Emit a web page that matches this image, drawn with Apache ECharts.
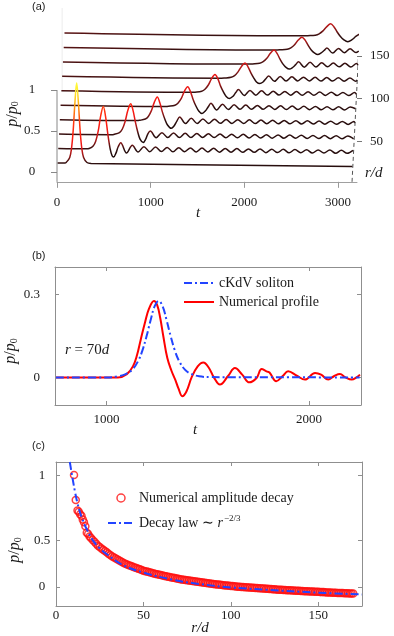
<!DOCTYPE html>
<html><head><meta charset="utf-8">
<script src="https://cdn.jsdelivr.net/npm/echarts@6/dist/echarts.min.js"></script>
<style>html,body{margin:0;padding:0;background:#fff}#c{width:394px;height:636px}</style>
</head><body><div id="c"></div>
<script>
// ================= DATA =================
// (a) waterfall: radial position r/d of each trace
const traceR = [10, 27, 44, 61, 78, 95, 112, 129, 146, 163];
// pulse part of each trace: [t, p/p0]
const traceHead = [
 [[0,0],[80,0],[95,0.01],[131,0.07],[150,0.18],[168,0.40],[187,0.75],[205,0.98],[223,0.75],[242,0.40],[260,0.18],[279,0.07],[315,0.01],[360,0],[3150,0]],
 [[0,0],[300,0],[330,0.005],[373,0.036],[400,0.094],[427,0.22],[454,0.41],[481,0.52],[505,0.40],[530,0.18],[555,0.0],[575,-0.08],[592,-0.095],[615,-0.05],[640,0.03],[667,0.08]],
 [[0,0],[560,0],[585,0.004],[645,0.027],[675,0.068],[705,0.16],[735,0.30],[765,0.38],[790,0.30],[815,0.16],[840,0.04],[865,-0.05],[899,-0.09],[925,-0.05],[950,0.02],[975,0.05]],
 [[0,0],[820,0],[850,0.003],[913,0.02],[945,0.052],[977,0.12],[1009,0.225],[1041,0.29],[1068,0.22],[1095,0.11],[1122,0.02],[1150,-0.05],[1190,-0.09],[1220,-0.06],[1250,0.0],[1280,0.05]],
 [[0,0],[1120,0],[1153,0.003],[1221,0.017],[1255,0.044],[1289,0.10],[1323,0.19],[1357,0.245],[1385,0.19],[1415,0.09],[1445,0.01],[1475,-0.05],[1510,-0.08],[1545,-0.05],[1575,0.0],[1605,0.045]],
 [[0,0],[1400,0],[1427,0.002],[1498,0.015],[1533,0.04],[1569,0.092],[1604,0.17],[1640,0.22],[1670,0.17],[1700,0.08],[1730,0.01],[1760,-0.045],[1795,-0.07],[1830,-0.045],[1860,0.0],[1890,0.04]],
 [[0,0],[1700,0],[1730,0.002],[1804,0.013],[1841,0.034],[1878,0.08],[1915,0.146],[1952,0.19],[1983,0.146],[2015,0.07],[2045,0.01],[2075,-0.04],[2110,-0.06],[2145,-0.04],[2175,0.0],[2205,0.035]],
 [[0,0],[2000,0],[2023,0.002],[2100,0.012],[2138,0.032],[2177,0.073],[2215,0.135],[2254,0.175],[2286,0.135],[2318,0.065],[2350,0.005],[2382,-0.035],[2418,-0.055],[2452,-0.035],[2485,0.0],[2515,0.035]],
 [[0,0],[2280,0],[2307,0.002],[2386,0.011],[2425,0.029],[2465,0.067],[2504,0.124],[2544,0.16],[2577,0.124],[2610,0.06],[2643,0.005],[2676,-0.03],[2712,-0.05],[2748,-0.03],[2780,0.0],[2810,0.03]],
 [[0,0],[2570,0],[2596,0.002],[2678,0.01],[2719,0.027],[2760,0.063],[2801,0.116],[2842,0.15],[2876,0.116],[2910,0.055],[2944,0.0],[2980,-0.04],[3025,-0.065],[3070,-0.04],[3110,0.0],[3150,0.03]]
];
// oscillatory tail after each pulse, sampled every tailStep in t
const tailStep = 62;
const tEnd = 3150;
const traceTail = [
 [],
 [-0.045,0.05,-0.03,0.035,-0.025,0.032,-0.022,0.03,-0.024,0.028,-0.02,0.027,-0.022,0.026,-0.02,0.025,-0.021,0.024,-0.019,0.025,-0.02,0.023,-0.018,0.024,-0.02,0.022,-0.018,0.023,-0.019,0.022,-0.017,0.022,-0.018,0.021,-0.017,0.022,-0.018,0.02,-0.017,0.02],
 [-0.03,0.032,-0.026,0.03,-0.024,0.028,-0.022,0.027,-0.021,0.026,-0.02,0.025,-0.021,0.024,-0.019,0.024,-0.02,0.023,-0.018,0.023,-0.019,0.022,-0.018,0.022,-0.017,0.021,-0.018,0.021,-0.017,0.02,-0.017,0.021,-0.016,0.02,-0.016],
 [-0.03,0.035,-0.026,0.03,-0.024,0.028,-0.022,0.027,-0.021,0.026,-0.02,0.025,-0.02,0.024,-0.019,0.023,-0.019,0.023,-0.018,0.022,-0.018,0.022,-0.017,0.021,-0.017,0.021,-0.016,0.02,-0.016,0.02],
 [-0.035,0.035,-0.028,0.03,-0.024,0.028,-0.022,0.026,-0.021,0.025,-0.02,0.024,-0.02,0.023,-0.019,0.022,-0.018,0.022,-0.018,0.021,-0.017,0.021,-0.017,0.02],
 [-0.03,0.032,-0.026,0.028,-0.023,0.026,-0.021,0.025,-0.02,0.024,-0.02,0.023,-0.019,0.022,-0.018,0.022,-0.018,0.021,-0.017,0.02],
 [-0.03,0.03,-0.025,0.027,-0.022,0.025,-0.02,0.024,-0.02,0.023,-0.019,0.022,-0.018,0.021,-0.018],
 [-0.03,0.03,-0.025,0.026,-0.022,0.025,-0.02,0.023,-0.02,0.022],
 [-0.03,0.028,-0.024,0.025,-0.02],
 []
];
const tTicksA = [0, 1000, 2000, 3000];
const pTicksA = [0, 0.5, 1];
const pLabelsA = ['0', '0.5', '1'];
const rTicksA = [50, 100, 150];

// (b) profile at r = 70d
const profileT = [750,1000,1056,1100,1130,1150,1168,1190,1210,1234,1250,1265,1280,1300,1320,1340,1355,1374,1395,1420,1450,1478,1505,1530,1560,1600,1634,1670,1705,1741,1766,1790,1805,1838,1870,1897,1940,1980,2030,2060,2095,2125,2153,2180,2211,2235,2252];
const profileV = [0,0,0,0.012,0.04,0.08,0.135,0.2,0.25,0.277,0.262,0.215,0.15,0.07,0.025,-0.01,-0.04,-0.068,-0.05,0.0,0.04,0.054,0.035,0.0,-0.026,0.005,0.034,0.01,-0.018,-0.002,0.03,0.022,0.018,-0.014,0.005,0.022,0.006,-0.008,0.016,0.01,-0.008,0.005,0.012,0.0,-0.008,0.0,0.01];
const solitonT = [750,1000,1057,1097,1127,1157,1177,1197,1217,1237,1257,1277,1297,1317,1337,1357,1387,1417,1457,1520,2250];
const solitonV = [0,0,0.004,0.013,0.028,0.061,0.098,0.148,0.206,0.257,0.277,0.257,0.206,0.148,0.098,0.061,0.028,0.013,0.004,0.001,0];
const tTicksB = [1000, 2000];
const pTicksB = [0, 0.3];
const pLabelsB = ['0', '0.3'];

// (c) amplitude decay: early irregular samples, then one sample per unit r from 20 to 170
const ampREarly = [10.3,11.3,12.3,13.0,13.8,14.6,15.3,16.0,16.8,17.6,18.4,19.2];
const ampVEarly = [1.0,0.81,0.73,0.72,0.70,0.69,0.66,0.64,0.61,0.56,0.55,0.53];
const ampRStart = 20;
const ampV = [0.52,0.505,0.49,0.475,0.46,0.45,0.44,0.43,0.42,0.41,
 0.40,0.39,0.38,0.372,0.365,0.357,0.35,0.342,0.335,0.327,
 0.32,0.315,0.31,0.305,0.30,0.295,0.29,0.285,0.28,0.275,
 0.27,0.266,0.263,0.259,0.256,0.252,0.249,0.245,0.242,0.239,
 0.236,0.233,0.23,0.227,0.224,0.221,0.218,0.215,0.213,0.21,
 0.208,0.205,0.203,0.201,0.199,0.197,0.195,0.193,0.191,0.189,
 0.187,0.185,0.183,0.181,0.179,0.177,0.175,0.173,0.172,0.17,
 0.169,0.167,0.165,0.164,0.162,0.16,0.159,0.157,0.156,0.154,
 0.153,0.152,0.15,0.149,0.148,0.147,0.146,0.145,0.144,0.143,
 0.142,0.141,0.14,0.139,0.138,0.137,0.136,0.135,0.134,0.133,
 0.132,0.131,0.13,0.129,0.128,0.127,0.126,0.125,0.124,0.124,
 0.123,0.122,0.121,0.12,0.12,0.119,0.118,0.117,0.116,0.116,
 0.115,0.114,0.113,0.113,0.112,0.111,0.11,0.11,0.109,0.108,
 0.108,0.107,0.106,0.106,0.105,0.104,0.104,0.103,0.102,0.102,
 0.101,0.1,0.1,0.099,0.099,0.098,0.097,0.097,0.096,0.096,0.095];
const lawR = [7.9,9.4,10.9,12.2,13.6,15.1,17.1,20.9,24.7,28.6,38,50,67,82,100,120,150,175];
const lawV = [1.1,0.98,0.87,0.79,0.72,0.665,0.6,0.505,0.445,0.4,0.315,0.255,0.2,0.168,0.142,0.124,0.102,0.088];
const rTicksC = [0, 50, 100, 150];
const pTicksC = [0.145, 0.5, 1];
const pLabelsC = ['0', '0.5', '1'];

// ================= CHART =================
const chart = echarts.init(document.getElementById('c'), null, {renderer: 'canvas', width: 394, height: 636});
const serif = 'Liberation Serif';
const gray = '#8f8f8f';
const txt = '#1a1a1a';
// oblique projection of (t, r, p) onto panel (a)
const SX = 0.49, SY0 = 0.0064, SY = 0.01036, ST = -1.36e-5;
const proj = (t, p, r) => [t + SX * r, p + SY0 + SY * r + ST * t];
const lab = (ticks, labels) => v => { let best = 0; ticks.forEach((x, i) => { if (Math.abs(x - v) < Math.abs(ticks[best] - v)) best = i; }); return labels ? labels[best] : String(ticks[best]); };
const hot = ['#1a0808','#2e1010','#a01818','#e41818','#ff1a10','#ff2a10','#ff3a10','#ff6a10','#ffa010','#ffd020','#ffee30','#ffff40'];

const series = [], visualMap = [];
for (let k = traceR.length - 1; k >= 0; k--) {
  const r = traceR[k], head = traceHead[k];
  const pts = head.slice();
  const lastT = head[head.length - 1][0];
  traceTail[k].forEach((v, j) => pts.push([lastT + (j + 1) * tailStep, v]));
  if (pts[pts.length - 1][0] < tEnd - 5) pts.push([tEnd, 0]);
  const pk = head.reduce((a, b) => (b[1] > a[1] ? b : a));
  const base = SY0 + SY * r + ST * pk[0];
  visualMap.push({type: 'continuous', show: false, seriesIndex: series.length, dimension: 1, min: base - 0.1, max: base + 1.0, inRange: {color: hot}});
  series.push({type: 'line', xAxisIndex: 0, yAxisIndex: 0, data: pts.map(([t, p]) => proj(t, p, r)), symbol: 'none', smooth: 0.35, lineStyle: {width: 1.5}, silent: true});
}
// box edges of the pseudo-3D panel
series.push({type: 'line', xAxisIndex: 0, yAxisIndex: 0, data: [[0, -0.12], [0, 1]], symbol: 'none', clip: false, lineStyle: {color: '#888', width: 1}, silent: true});
series.push({type: 'line', xAxisIndex: 0, yAxisIndex: 0, data: [[55, 1], [55, 2]], symbol: 'none', clip: false, lineStyle: {color: '#ececec', width: 1}, silent: true, z: 1});
series.push({type: 'line', xAxisIndex: 0, yAxisIndex: 0, data: [[tEnd, -0.12], proj(tEnd, 0, traceR[traceR.length - 1])], symbol: 'none', clip: false, lineStyle: {color: '#555', width: 1, type: [4, 3]}, silent: true});
// (b)
series.push({name: 'Numerical profile', type: 'line', xAxisIndex: 1, yAxisIndex: 2, data: profileT.map((t, i) => [t, profileV[i]]), symbol: 'none', smooth: 0.4, lineStyle: {color: '#ff0000', width: 2}, itemStyle: {color: '#ff0000'}});
series.push({name: 'cKdV soliton', type: 'line', xAxisIndex: 1, yAxisIndex: 2, data: solitonT.map((t, i) => [t, solitonV[i]]), symbol: 'none', smooth: 0.4, lineStyle: {color: '#2244ff', width: 2, type: [8, 3, 2, 3]}, itemStyle: {color: '#2244ff'}});
// (c)
const ampData = ampREarly.map((r, i) => [r, ampVEarly[i]]).concat(ampV.map((v, i) => [ampRStart + i, v]));
series.push({name: 'Numerical amplitude decay', type: 'scatter', xAxisIndex: 3, yAxisIndex: 4, data: ampData, symbol: 'circle', symbolSize: 7, itemStyle: {color: 'rgba(255,0,0,0)', borderColor: '#ff1010', borderWidth: 1.5}});
series.push({name: 'Decay law', type: 'line', xAxisIndex: 3, yAxisIndex: 4, data: lawR.map((r, i) => [r, lawV[i]]), symbol: 'none', smooth: 0.4, lineStyle: {color: '#2244ff', width: 2, type: [8, 3, 2, 3]}, itemStyle: {color: '#2244ff'}});

const lblStyle = {fontFamily: serif, fontSize: 13, color: txt};
const frameX = (gi, min, max, ticks, pos, showLabel, margin) => ({
  gridIndex: gi, type: 'value', min, max, position: pos,
  axisLine: {show: true, onZero: false, lineStyle: {color: gray, width: 1}},
  axisTick: {show: true, inside: true, length: 4, customValues: ticks, lineStyle: {color: gray}},
  axisLabel: Object.assign({show: showLabel, customValues: ticks, margin, formatter: lab(ticks)}, lblStyle),
  splitLine: {show: false}
});
const hiddenSym = {color: 'rgba(0,0,0,0)', borderWidth: 0};

const option = {
  animation: false,
  backgroundColor: '#fff',
  grid: [
    {left: 57, top: 8, width: 300, height: 173.84},
    {left: 55, top: 267, width: 306, height: 138},
    {left: 56, top: 462, width: 306, height: 144}
  ],
  xAxis: [
    {gridIndex: 0, type: 'value', min: 0, max: 3203,
     axisLine: {show: true, onZero: false, lineStyle: {color: '#a0a0a0', width: 1}},
     axisTick: {show: true, inside: false, length: 6, customValues: tTicksA, lineStyle: {color: '#999'}},
     axisLabel: Object.assign({customValues: tTicksA, margin: 14, formatter: lab(tTicksA)}, lblStyle),
     splitLine: {show: false}},
    frameX(1, 745, 2257, tTicksB, 'bottom', true, 8),
    frameX(1, 745, 2257, tTicksB, 'top', false, 8),
    frameX(2, 0, 175, rTicksC, 'bottom', true, 3),
    frameX(2, 0, 175, [50, 100, 150], 'top', false, 3)
  ],
  yAxis: [
    {gridIndex: 0, type: 'value', min: -0.12, max: 2.0,
     axisLine: {show: false},
     axisTick: {show: true, inside: false, length: 6, customValues: pTicksA, lineStyle: {color: '#888'}},
     axisLabel: Object.assign({customValues: pTicksA, margin: 25, align: 'center', formatter: lab(pTicksA, pLabelsA)}, lblStyle),
     splitLine: {show: false}},
    {gridIndex: 0, type: 'value', min: 2.82, max: 206.1, position: 'right',
     axisLine: {show: false},
     axisTick: {show: true, inside: false, length: 5, customValues: rTicksA, lineStyle: {color: '#777'}},
     axisLabel: Object.assign({customValues: rTicksA, margin: 13, formatter: lab(rTicksA)}, lblStyle),
     splitLine: {show: false}},
    {gridIndex: 1, type: 'value', min: -0.1, max: 0.4,
     axisLine: {show: true, onZero: false, lineStyle: {color: gray}},
     axisTick: {show: true, inside: true, length: 4, customValues: pTicksB, lineStyle: {color: gray}},
     axisLabel: Object.assign({customValues: pTicksB, margin: 15, formatter: lab(pTicksB, pLabelsB)}, lblStyle),
     splitLine: {show: false}},
    {gridIndex: 1, type: 'value', min: -0.1, max: 0.4, position: 'right',
     axisLine: {show: true, onZero: false, lineStyle: {color: gray}},
     axisTick: {show: true, inside: true, length: 4, customValues: pTicksB, lineStyle: {color: gray}},
     axisLabel: {show: false}, splitLine: {show: false}},
    {gridIndex: 2, type: 'value', min: 0, max: 1.1,
     axisLine: {show: true, onZero: false, lineStyle: {color: gray}},
     axisTick: {show: true, inside: true, length: 4, customValues: pTicksC, lineStyle: {color: gray}},
     axisLabel: Object.assign({customValues: pTicksC, margin: 14, align: 'center', formatter: lab(pTicksC, pLabelsC)}, lblStyle),
     splitLine: {show: false}},
    {gridIndex: 2, type: 'value', min: 0, max: 1.1, position: 'right',
     axisLine: {show: true, onZero: false, lineStyle: {color: gray}},
     axisTick: {show: true, inside: true, length: 4, customValues: pTicksC, lineStyle: {color: gray}},
     axisLabel: {show: false}, splitLine: {show: false}}
  ],
  visualMap,
  legend: [
    {data: [{name: 'cKdV soliton', itemStyle: hiddenSym}, {name: 'Numerical profile', itemStyle: hiddenSym}],
     orient: 'vertical', left: 183, top: 276, padding: 0, itemWidth: 30, itemHeight: 14, itemGap: 5, selectedMode: false,
     textStyle: {fontFamily: serif, fontSize: 14, color: txt}},
    {data: [{name: 'Numerical amplitude decay', icon: 'circle', itemStyle: {color: 'rgba(0,0,0,0)', borderColor: '#ff1010', borderWidth: 1.5}},
            {name: 'Decay law', itemStyle: hiddenSym}],
     orient: 'vertical', left: 107, top: 491, padding: 0, itemWidth: 26, itemHeight: 8, itemGap: 9, selectedMode: false,
     formatter: n => (n === 'Decay law' ? 'Decay law ∼ {i|r}{s|−2/3}' : n),
     textStyle: {fontFamily: serif, fontSize: 14, color: txt,
       rich: {i: {fontFamily: serif, fontSize: 14, fontStyle: 'italic', color: txt}, s: {fontFamily: serif, fontSize: 9, color: txt, verticalAlign: 'top', padding: [0, 0, 9, 1]}}}}
  ],
  graphic: [
    {type: 'text', left: 32, top: 1, style: {text: '(a)', font: '11px "Liberation Sans"', fill: '#222'}},
    {type: 'text', left: 32, top: 250, style: {text: '(b)', font: '11px "Liberation Sans"', fill: '#222'}},
    {type: 'text', left: 32, top: 440, style: {text: '(c)', font: '11px "Liberation Sans"', fill: '#222'}},
    ...[[12.5, 114], [11, 351], [15, 550]].map(([x, y]) => ({type: 'text', x, y, rotation: Math.PI / 2,
      style: {text: '{i|p}/{i|p}{s|0}', align: 'center', verticalAlign: 'middle', fill: txt,
        rich: {i: {fontFamily: serif, fontSize: 16, fontStyle: 'italic', fill: txt}, s: {fontFamily: serif, fontSize: 10, fill: txt, verticalAlign: 'bottom', padding: [6, 0, 0, 0]}},
        font: '16px "Liberation Serif"'}})),
    {type: 'text', x: 198, y: 213, style: {text: 't', align: 'center', verticalAlign: 'middle', font: 'italic 15px "Liberation Serif"', fill: txt}},
    {type: 'text', x: 195, y: 430, style: {text: 't', align: 'center', verticalAlign: 'middle', font: 'italic 15px "Liberation Serif"', fill: txt}},
    {type: 'text', x: 200, y: 628, style: {text: 'r/d', align: 'center', verticalAlign: 'middle', font: 'italic 15px "Liberation Serif"', fill: txt}},
    {type: 'text', x: 365, y: 173, style: {text: 'r/d', align: 'left', verticalAlign: 'middle', font: 'italic 15px "Liberation Serif"', fill: txt}},
    {type: 'text', x: 65, y: 350, style: {text: '{i|r} = 70{i|d}', align: 'left', verticalAlign: 'middle', font: '15px "Liberation Serif"', fill: txt,
      rich: {i: {fontFamily: serif, fontSize: 15, fontStyle: 'italic', fill: txt}}}}
  ],
  series
};
chart.setOption(option);
</script></body></html>
